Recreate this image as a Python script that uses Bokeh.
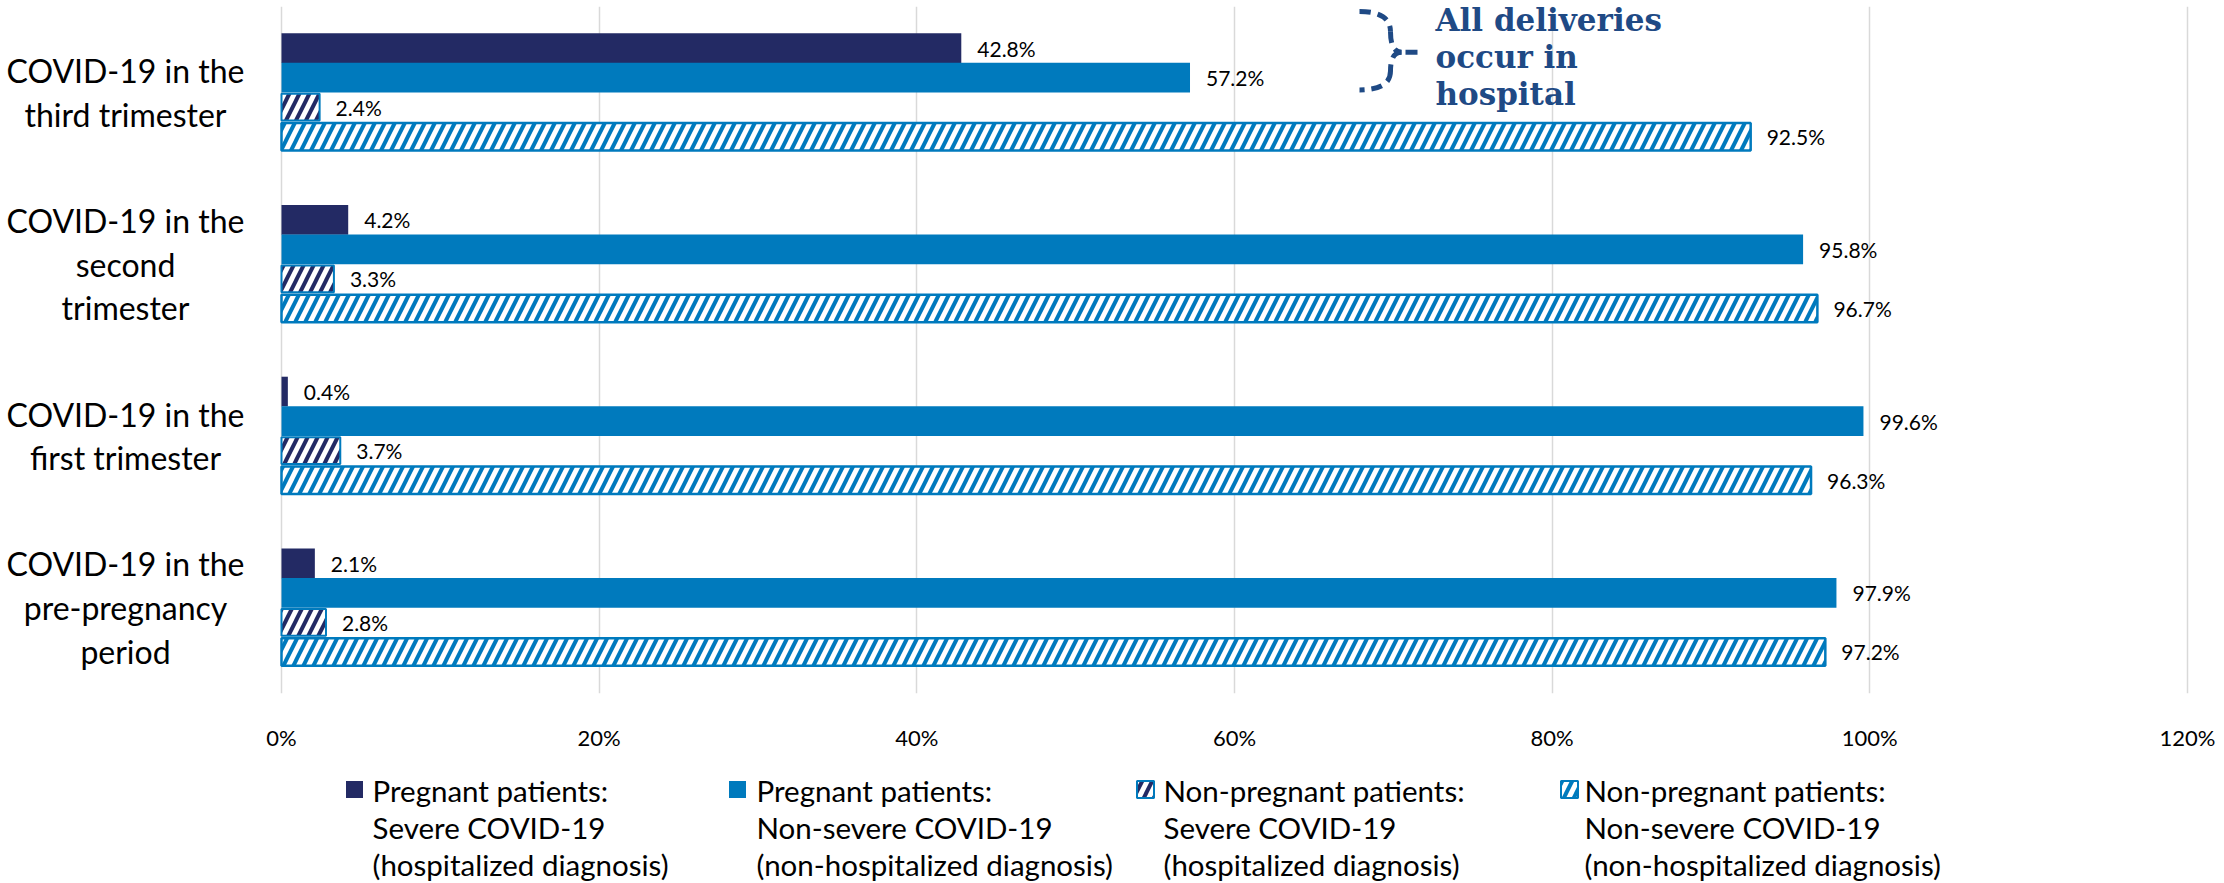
from bokeh.plotting import figure
from bokeh.models import ColumnDataSource, Range1d, FixedTicker, NumeralTickFormatter
from bokeh.layouts import column
from bokeh.core.properties import value
from bokeh.embed import file_html
from bokeh.resources import INLINE

# ---------------- data ----------------
categories = [
    "COVID-19 in the\nthird trimester",
    "COVID-19 in the\nsecond\ntrimester",
    "COVID-19 in the\nfirst trimester",
    "COVID-19 in the\npre-pregnancy\nperiod",
]
preg_severe = [42.8, 4.2, 0.4, 2.1]
preg_nonsevere = [57.2, 95.8, 99.6, 97.9]
nonpreg_severe = [2.4, 3.3, 3.7, 2.8]
nonpreg_nonsevere = [92.5, 96.7, 96.3, 97.2]
x_ticks = [0, 0.2, 0.4, 0.6, 0.8, 1.0, 1.2]
legend_labels = [
    ["Pregnant patients:", "Severe COVID-19", "(hospitalized diagnosis)"],
    ["Pregnant patients:", "Non-severe COVID-19", "(non-hospitalized diagnosis)"],
    ["Non-pregnant patients:", "Severe COVID-19", "(hospitalized diagnosis)"],
    ["Non-pregnant patients:", "Non-severe COVID-19", "(non-hospitalized diagnosis)"],
]
annotation_lines = ["All deliveries", "occur in", "hospital"]

# ---------------- style ----------------
NAVY = "#232A64"
BLUE = "#007ABD"
ANN = "#1F4A85"
GRID = "#D9D9D9"
FONT = value("Lato")

W = 2216
TOP_PX = 6
FRAME_H = 692
MAIN_H = 753
LEG_H = 130
PX_PER_UNIT = 1588.3          # x pixels per 100%
LEFT_PX = 281
X0 = -LEFT_PX / PX_PER_UNIT
X1 = (W - LEFT_PX) / PX_PER_UNIT
Y_TOP = 4.0
PX_PER_Y = FRAME_H / Y_TOP
BOTTOM_PX = TOP_PX + FRAME_H   # page y of value 0

n = len(categories)
centers = [n - 1 - i + 0.5 for i in range(n)]
bar_h = 0.173
offsets = [0.258, 0.086, -0.086, -0.258]

p = figure(width=W, height=MAIN_H, x_range=Range1d(X0, X1), y_range=Range1d(0, Y_TOP),
           output_backend="svg", toolbar_location=None,
           min_border_left=0, min_border_right=0, min_border_top=TOP_PX,
           min_border_bottom=MAIN_H - FRAME_H - TOP_PX)
p.outline_line_color = None
p.background_fill_color = "white"
p.yaxis.visible = False
p.ygrid.grid_line_color = None
p.xaxis.ticker = FixedTicker(ticks=x_ticks)
p.xgrid.ticker = FixedTicker(ticks=x_ticks)
p.xgrid.grid_line_color = GRID
p.xgrid.grid_line_width = 1.5
p.xaxis.formatter = NumeralTickFormatter(format="0%")
p.xaxis.axis_line_color = None
p.xaxis.major_tick_line_color = None
p.xaxis.minor_tick_line_color = None
p.xaxis.major_label_text_font = "Lato"
p.xaxis.major_label_text_font_size = "22px"
p.xaxis.major_label_text_color = "black"
p.xaxis.major_label_standoff = 24

HS, HW = 20, 4
series = [
    (preg_severe, dict(fill_color=NAVY, line_color=None), bar_h),
    (preg_nonsevere, dict(fill_color=BLUE, line_color=None), bar_h),
    (nonpreg_severe, dict(fill_color="white", hatch_pattern="/", hatch_color=NAVY, hatch_scale=HS,
                          hatch_weight=HW, line_color=BLUE, line_width=2), 0.155),
    (nonpreg_nonsevere, dict(fill_color="white", hatch_pattern="/", hatch_color=BLUE, hatch_scale=HS,
                             hatch_weight=HW, line_color=BLUE, line_width=2.5), 0.16),
]
for k, (vals, style, h) in enumerate(series):
    src = ColumnDataSource(dict(
        y=[c + offsets[k] for c in centers],
        right=[v / 100 for v in vals],
        lab=[f"{v:.1f}%" for v in vals],
    ))
    p.hbar(y="y", right="right", left=0, height=h, source=src, **style)
    p.text(x="right", y="y", text="lab", source=src, x_offset=16, text_align="left",
           text_baseline="middle", text_font=FONT, text_font_size="21px", text_color="black")

# category labels (multi-line, centered)
cat_x = (125 - LEFT_PX) / PX_PER_UNIT
line_sp = 44 / PX_PER_Y
cx, cy, ct = [], [], []
for c, lab in zip(centers, categories):
    lines = lab.split("\n")
    m = len(lines)
    for j, ln in enumerate(lines):
        cx.append(cat_x)
        cy.append(c + ((m - 1) / 2 - j) * line_sp)
        ct.append(ln)
p.text(x=cx, y=cy, text=ct, text_align="center", text_baseline="middle",
       text_font=FONT, text_font_size="32px", text_color="black")

# annotation: dashed brace + text
def px_x(px):
    return (px - LEFT_PX) / PX_PER_UNIT

def px_y(py):
    return (BOTTOM_PX - py) / PX_PER_Y

bx0, bxc, bxt, bxe = px_x(1359), px_x(1390), px_x(1401), px_x(1417)
by_top, by_mid, by_bot = px_y(11), px_y(52), px_y(90)
yq1 = (by_top + by_mid) / 2
yq3 = (by_mid + by_bot) / 2
p.quadratic(x0=[bx0, bxc, bxt, bxc], y0=[by_top, yq1, by_mid, yq3],
            x1=[bxc, bxt, bxc, bx0], y1=[yq1, by_mid, yq3, by_bot],
            cx=[bxc, bxc, bxc, bxc], cy=[by_top, by_mid, by_mid, by_bot],
            line_color=ANN, line_width=5, line_dash="11 7")
p.segment(x0=[px_x(1405)], y0=[by_mid], x1=[bxe], y1=[by_mid],
          line_color=ANN, line_width=5)
ann_x = px_x(1435)
ann_y = [px_y(yy) for yy in (20, 57, 94)]
p.text(x=[ann_x] * 3, y=ann_y, text=annotation_lines, text_align="left", text_baseline="middle",
       text_font=value("DejaVu Serif"), text_font_style="bold", text_font_size="31px", text_color=ANN)

# ---------------- legend figure ----------------
leg = figure(width=W, height=LEG_H, x_range=Range1d(0, W), y_range=Range1d(LEG_H, 0),
             output_backend="svg", toolbar_location=None, x_axis_type=None, y_axis_type=None,
             min_border=0)
leg.outline_line_color = None
leg.grid.visible = False
LEG_TOP = MAIN_H
sw_x = [354, 737, 1145, 1569]
tx_x = [372, 756, 1163, 1584]
sw_y = 789 - LEG_TOP
row_y = [790 - LEG_TOP, 827 - LEG_TOP, 864 - LEG_TOP]
for k, (vals, style, h) in enumerate(series):
    st = dict(style)
    if "hatch_scale" in st:
        st["line_width"] = 2
    leg.rect(x=[sw_x[k]], y=[sw_y], width=17, height=17, **st)
    leg.text(x=[tx_x[k]] * 3, y=row_y, text=legend_labels[k], text_align="left",
             text_baseline="middle", text_font=FONT, text_font_size="29.5px", text_color="black")

layout = column(p, leg, spacing=0)
open("out.html", "w").write(file_html(layout, INLINE))
